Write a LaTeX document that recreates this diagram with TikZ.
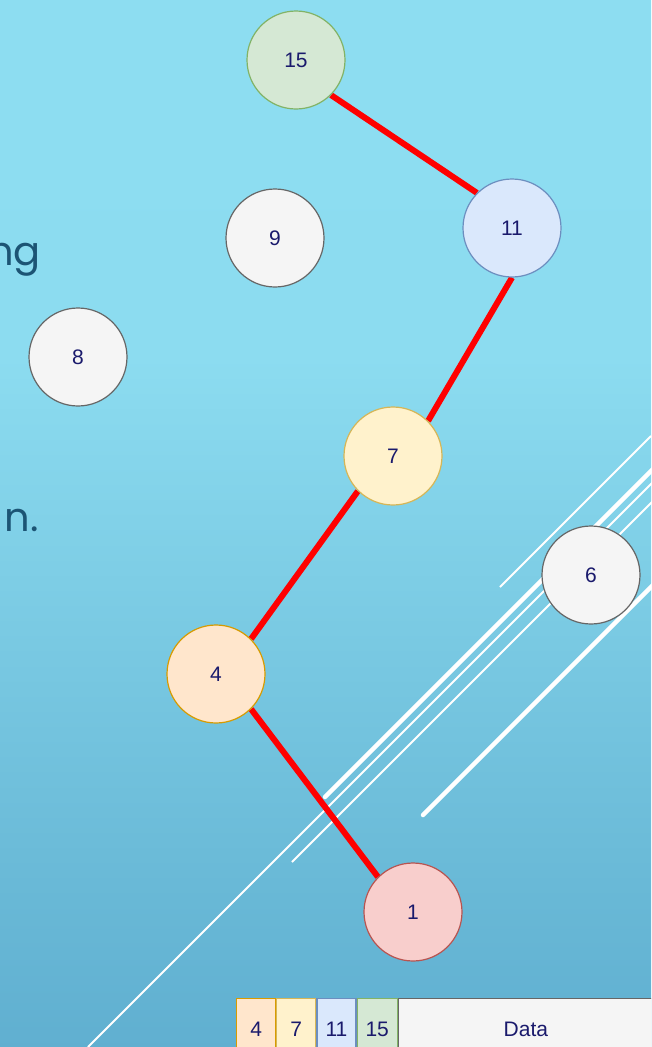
\documentclass[tikz,border=0pt]{standalone}
\usepackage{fontspec}
\setmainfont{Liberation Sans}
\newfontfamily\slidefont{Poppins}
\pgfdeclarelayer{back}
\pgfdeclarelayer{edges}
\pgfsetlayers{back,edges,main}
\definecolor{skytop}{RGB}{143,223,243}
\definecolor{skyhigh}{RGB}{140,220,240}
\definecolor{skymid}{RGB}{104,184,214}
\definecolor{skybot}{RGB}{68,144,188}
\pgfdeclareverticalshading{slidebg}{100bp}{color(0bp)=(skybot); color(32bp)=(skymid); color(58bp)=(skyhigh); color(100bp)=(skytop)}
\definecolor{slidetext}{RGB}{28,84,116}
\definecolor{labelink}{RGB}{26,26,108}
\definecolor{greenfill}{HTML}{D5E8D4}\definecolor{greenline}{HTML}{82B366}
\definecolor{bluefill}{HTML}{DAE8FC}\definecolor{blueline}{HTML}{6C8EBF}
\definecolor{grayfill}{HTML}{F5F5F5}\definecolor{grayline}{HTML}{666666}
\definecolor{yellowfill}{HTML}{FFF2CC}\definecolor{yellowline}{HTML}{D6B656}
\definecolor{orangefill}{HTML}{FFE6CC}\definecolor{orangeline}{HTML}{D79B00}
\definecolor{redfill}{HTML}{F8CECC}\definecolor{redline}{HTML}{B85450}
\tikzset{
  keynode/.style={circle, draw, line width=1.2pt, minimum size=98pt, inner sep=0pt,
    font=\fontsize{21}{21}\selectfont, text=labelink},
  green/.style={fill=greenfill, draw=greenline},
  blue/.style={fill=bluefill, draw=blueline},
  gray/.style={fill=grayfill, draw=grayline},
  yellow/.style={fill=yellowfill, draw=yellowline},
  orange/.style={fill=orangefill, draw=orangeline},
  pink/.style={fill=redfill, draw=redline},
  pathedge/.style={draw=red, line width=6pt},
  stripe/.style={draw=white, line width=2pt},
  bar/.style={draw=white, line width=4.5pt, line cap=round},
  cell/.style={draw, line width=1.2pt, minimum height=62pt, anchor=north west,
    inner sep=0pt, font=\fontsize{21}{21}\selectfont, text=labelink, text depth=0pt},
  slidetxt/.style={font=\slidefont\fontsize{40}{40}\selectfont, text=slidetext, inner sep=0pt, anchor=base east}
}
\begin{document}
\begin{tikzpicture}[x=1pt,y=-1pt]
\useasboundingbox (0,0) rectangle (651,1047);
\clip (0,0) rectangle (651,1047);
\begin{pgfonlayer}{back}
  % gradient backdrop
  \shade[shading=slidebg] (0,0) rectangle (651,1047);
  % diagonal white stripes
  \draw[stripe] (500,587) -- (651,436);
  \draw[bar] (325,797) -- (660,462);
  \draw[stripe] (88,1047) -- (660,475);
  \draw[stripe] (292,862) -- (660,494);
  \draw[bar] (423,815) -- (660,578);
\end{pgfonlayer}

% partial slide text on the left
\node[slidetxt] (t1) at (41,265) {ng};
\node[slidetxt] (t2) at (39,531) {n.};

% keys
\node[keynode, green]  (n15) at (296,60)  {15};
\node[keynode, blue]   (n11) at (512,228) {11};
\node[keynode, gray]   (n9)  at (275,238) {9};
\node[keynode, gray]   (n8)  at (78,357)  {8};
\node[keynode, yellow] (n7)  at (393,456) {7};
\node[keynode, gray]   (n6)  at (591,575) {6};
\node[keynode, orange] (n4)  at (216,674) {4};
\node[keynode, pink]   (n1)  at (413,912) {1};

\begin{pgfonlayer}{edges}
  \draw[pathedge] (n15.south east) -- (n11.north west);
  \draw[pathedge] (n11.south) -- (n7.north east);
  \draw[pathedge] (n7.south west) -- (n4.north east);
  \draw[pathedge] (n4.south east) -- (n1.north west);
\end{pgfonlayer}

% record layout strip
\node[cell, orange, minimum width=39pt] (c4)  at (236,998) {4};
\node[cell, yellow, minimum width=39pt] (c7)  at (c4.north east) {7};
\node[cell, blue,   minimum width=39pt] (c11) at (c7.north east) {11};
\node[cell, green,  minimum width=40pt] (c15) at (c11.north east) {15};
\node[cell, gray,   minimum width=255pt] (cd) at (c15.north east) {Data};
\end{tikzpicture}
\end{document}
